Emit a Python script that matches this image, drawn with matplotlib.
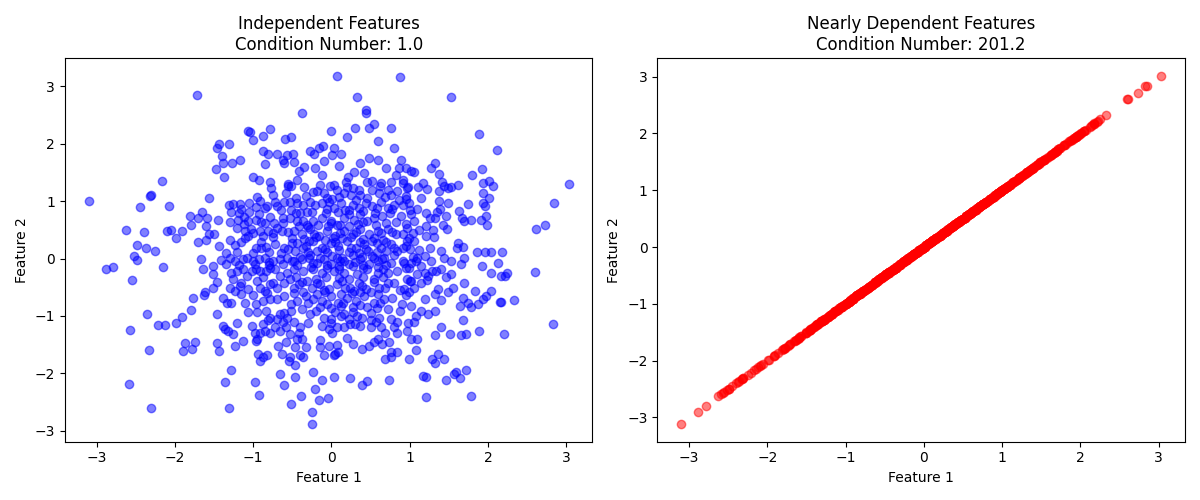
import matplotlib
matplotlib.use("Agg")
import matplotlib.pyplot as plt

# Feature 1 values (both panels share this column)
feature_1 = [
    -1.72, -0.38, -3.10, -2.17, -2.32, -2.31, -2.45, -2.08, -2.63, -2.40, -2.10, -2.05, -1.99, -2.49, -2.37, -2.25,
    0.07, 0.88, 0.33, 1.53, 0.44, 0.44, 3.03, 2.85, 2.73, 2.61,
    -2.88, -2.79, -2.52, -2.49, -2.55, -2.15, -2.36, -2.57, -2.21, -2.12, -2.33, -2.59, -2.31, -1.98, -1.91, -1.80, -1.77, -1.46,
    -1.87, -1.90, -1.78, -1.74, -1.46, -1.44, -1.36, -1.28, -1.31, -1.23, -1.13, -0.96, -0.94, -0.91, -0.87, -0.82, -0.98, -0.92,
    -0.68, -0.63, -0.58, -0.54, -0.66, -0.60, -0.51, -0.39, -0.25, -0.25, -0.21, -0.16, -0.04,
    -1.07, -1.04, -1.00, -0.87, -0.79, -1.43, -1.31, -1.46, -1.40, -1.39, -1.27, -1.17, -1.47, -1.37,
    -0.87, -0.81, -0.70, -0.62, -0.60, -0.85, -1.00, -0.93, -0.79, -0.77, -0.59, -0.57, -0.56,
    -1.57, -1.31, -1.26, -1.17, -1.05, -0.91, -0.82, -0.72, -0.69, -0.61, -0.58, -0.55,
    -1.28, -1.18, -1.05, -0.96, -0.93, -1.81, -1.65, -1.71, -1.59, -1.45,
    -1.79, -1.91, -1.60, -1.57, -1.50, -1.19, -1.06, -0.96, -0.85, -0.73,
    -1.21, -1.10, -1.03, -0.91, -0.81, -0.70, -0.63,
    -1.71, -1.60, -1.44, -1.30, -1.23, -1.11, -1.06, -0.96, -0.83, -0.72, -0.61,
    -0.51, -0.01, 0.20, 0.30, 0.48, 0.54, 0.60, 0.76,
    -0.49, -0.48, -0.41, -0.44, -0.51, -0.27, -0.22, -0.16, -0.11, -0.10, -0.21, 0.03, 0.12, 0.01,
    -0.12, -0.14, -0.23, -0.18, -0.10, -0.06, 0.01,
    0.21, 0.29, 0.37, 0.48, 0.60, 0.42, 0.46, 0.52, 0.63, 0.76, 0.82, 0.87, 0.80,
    0.03, 0.07, 0.16, 0.19, 0.27, 0.35, 0.37, 0.32, 0.52, 0.61, 0.72, 0.76, 0.84,
    -0.53, -0.44, -0.36, -0.27, -0.51, -0.40, -0.31, -0.21,
    -0.12, -0.03, 0.03, 0.12, 0.18, 0.27, 0.35, 0.44, 0.52, 0.63, 0.72, 0.80, 0.87,
    0.65, 0.54, 0.46, 0.37, 0.29, 0.16, 0.07, -0.01, -0.12, -0.23, -0.31, -0.44, -0.53,
    -0.48, -0.38, -0.27, -0.16, -0.06, 0.05, 0.16, 0.27, 0.37, 0.48, 0.59, 0.72, 0.82,
    -0.44, -0.33, -0.23, -0.12, -0.01, 0.09, 0.20, 0.31, 0.42, 0.52, 0.63, 0.76, 0.84,
    -0.40, -0.27, -0.14, 0.01, 0.14, 0.27, 0.39, 0.52, 0.67, 0.80,
    -0.47, -0.30, -0.19, -0.05, 0.10, 0.22, 0.35, 0.47, 0.58, 0.70,
    -0.50, -0.35, -0.20, -0.08, 0.02, 0.14, 0.25, 0.40, 0.55, 0.66,
    -0.42, -0.30, -0.17, -0.04, 0.11, 0.22, 0.34, 0.57, 0.70,
    -0.45, -0.25, -0.07, 0.08, 0.23, 0.41, 0.56, 0.75,
    1.88, 2.12, 0.89, 0.95, 1.02, 1.06, 0.92, 1.27, 1.32, 1.38, 1.41, 1.44, 1.38, 1.49, 1.53, 1.62,
    1.11, 1.17, 1.22, 1.80, 1.92, 1.94, 2.01, 2.07, 1.94, 2.01, 1.94, 1.96, 1.97, 1.99, 1.91, 1.79,
    1.74, 1.63, 1.67, 1.69, 1.37, 1.49, 1.39, 1.35, 1.47, 1.48, 1.42,
    1.21, 1.26, 1.33, 1.21, 1.30, 1.21, 1.31, 1.26, 1.62, 1.68, 1.61, 1.86, 1.96, 2.04, 2.18,
    0.91, 0.97, 0.95, 0.99, 0.91, 0.89, 1.02, 1.06, 0.97, 1.04, 0.99, 1.06, 0.95, 0.91, 1.10, 1.04, 1.19,
    1.12, 1.12, 1.40,
    -1.66, -1.64, -1.51, -1.41, -1.30, -1.23, -1.13, -1.08, -0.93, -0.85, -0.74, -0.66, -0.57,
    -1.51, -1.46, -1.61, -1.51, -1.63, -1.28, -1.26, -1.21, -1.13, -1.08, -1.02, -0.91, -0.87, -0.83, -0.72, -0.66, -0.57,
    -1.30, -1.23, -1.17, -1.06, -0.91, -0.85, -0.78, -0.70, -0.61,
    -1.38, -1.34, -1.28, -0.96, -0.87, -0.78, -0.70, -0.61,
    -1.06, -0.83, -0.78, -0.70, -0.81, -0.66, -0.57,
    -1.38, -1.32, -1.26, -1.36, -1.02, -0.98, -0.91, -0.85, -0.78, -0.72, -0.66, -0.58,
    -1.35, -1.20, -1.00, -0.80, -0.65, -1.35, -1.18, -0.98, -0.80, -0.62, -1.15, -1.00, -0.82, -0.88, -0.75, -1.12, -0.78, -0.62,
    -0.48, -0.38, -0.29, -0.18, -0.10, -0.01, 0.07, 0.16, 0.27, 0.37, 0.48, 0.54, 0.65, 0.76, 0.84,
    -0.36, -0.23, -0.12, 0.03, 0.16, 0.33, 0.46, 0.59, 0.72,
    -0.53, -0.42, -0.31, -0.25, -0.14, -0.03, 0.07, 0.18, 0.29, 0.39, 0.50, 0.61, 0.72,
    0.78, 0.67, 0.54, 0.42, 0.31, 0.20, 0.09, -0.01, -0.12, -0.23, -0.33, -0.44,
    -0.51, -0.38, -0.27, -0.48, -0.40, -0.53, -0.42,
    -0.10, -0.01, 0.12, 0.16, 0.22, 0.33, 0.39, 0.50, 0.61, 0.72, 0.76, 0.84,
    -0.12, -0.03, 0.01, 0.07, 0.16, 0.24, 0.37, 0.50, 0.63, 0.69, 0.80, 0.84,
    -0.14, -0.03, 0.07, 0.03, 0.05, -0.10, 0.09, 0.27, 0.39, 0.48, 0.54, 0.65, 0.74, 0.76, 0.69, 0.76, 0.84,
    -0.38, -0.33, -0.44, -0.46, -0.40, -0.53, -0.36, -0.46,
    -0.46, -0.23, -0.12, 0.03, 0.24, 0.39, 0.45, 0.74,
    -0.44, -0.26, -0.06, 0.10, 0.22, 0.41, 0.60, 0.70, -0.45, -0.20, -0.07, 0.10, 0.23, 0.40, 0.55, 0.66,
    -0.48, -0.36, -0.19, -0.08, 0.12, 0.26, 0.36, 0.60, -0.15, 0.00, 0.12, 0.28, 0.45, 0.58,
    0.93, 0.99, 1.08, 1.14, 1.10, 1.19, 0.97, 0.93, 0.99, 0.95, 1.06, 1.14, 1.23, 1.29, 1.27, 1.34, 1.40, 1.46, 1.44, 1.53, 1.66, 1.70,
    1.92, 2.13, 2.04, 2.17, 2.25, 1.53, 1.55, 1.49, 1.36, 1.32, 1.70, 1.68, 1.64, 1.74, 1.79, 1.87, 1.94, 1.98, 2.04, 2.15, 1.83,
    1.02, 1.08, 1.14, 1.23, 1.32, 0.97, 1.06, 1.02, 1.40, 1.51, 1.66, 1.72, 1.89, 2.21, 1.68, 1.32,
    1.08, 0.99, 1.36, 1.32, 1.29, 1.44, 1.17, 1.21, 1.59, 1.57, 1.72, 1.46, 1.64, 1.79, 1.21,
    2.60, 2.33, 2.83, 2.17, 2.22,
    1.02, 1.22, 1.20, 1.40,
]

# Feature 2 of the independent case (left panel)
feature_2 = [
    2.85, 2.54, 1.01, 1.36, 1.09, 1.10, 0.89, 0.91, 0.49, 0.47, 0.48, 0.49, 0.35, 0.23, 0.18, 0.14,
    3.19, 3.16, 2.81, 2.81, 2.59, 2.53, 1.30, 0.97, 0.58, 0.52,
    -0.19, -0.14, 0.04, -0.03, -0.38, -0.14, -0.97, -1.24, -1.16, -1.16, -1.59, -2.18, -2.61, -1.12, -1.02, -0.90, -0.69, -0.97,
    -1.47, -1.61, -1.57, -1.46, -1.47, -1.62, -2.16, -1.95, -2.61, -1.52, -1.44, -1.43, -1.66, -1.78, -1.72, -1.69, -2.15, -2.38,
    -1.52, -1.66, -1.46, -1.79, -2.01, -2.21, -2.53, -2.40, -2.67, -2.89, -2.28, -2.47, -2.44,
    2.23, 2.21, 2.07, 2.13, 2.26, 1.99, 1.99, 1.92, 1.79, 1.67, 1.67, 1.71, 1.56, 1.43,
    1.87, 1.82, 1.82, 1.71, 1.67, 1.64, 1.43, 1.37, 1.33, 1.23, 2.08, 1.80, 1.30,
    1.06, 0.93, 0.95, 0.95, 0.97, 1.01, 0.91, 0.99, 0.92, 0.99, 1.14, 1.26,
    0.82, 0.79, 0.81, 0.89, 0.78, 0.75, 0.81, 0.71, 0.71, 0.67,
    0.59, 0.48, 0.56, 0.42, 0.42, 0.67, 0.65, 0.68, 0.62, 0.62,
    0.54, 0.48, 0.52, 0.48, 0.48, 0.53, 0.48,
    0.29, 0.33, 0.22, 0.32, 0.23, 0.36, 0.39, 0.19, 0.20, 0.25, 0.19,
    2.12, 2.22, 2.12, 2.27, 2.27, 2.35, 2.05, 2.27,
    1.83, 1.69, 1.53, 1.37, 1.26, 1.87, 1.83, 1.93, 1.96, 1.70, 1.57, 1.92, 1.83, 1.80,
    1.46, 1.29, 1.16, 1.17, 1.14, 1.05, 1.03,
    1.43, 1.50, 1.66, 1.76, 1.72, 1.49, 1.34, 1.35, 1.31, 1.34, 1.46, 1.57, 1.92,
    1.29, 1.20, 1.14, 1.34, 1.23, 1.20, 1.11, 1.02, 1.20, 1.14, 1.20, 1.11, 1.17,
    0.99, 0.97, 0.94, 0.99, 0.85, 0.79, 0.82, 0.94,
    0.97, 0.99, 0.88, 0.97, 0.85, 0.94, 0.88, 0.97, 0.91, 0.99, 0.88, 0.94, 1.02,
    0.74, 0.71, 0.65, 0.77, 0.68, 0.71, 0.59, 0.65, 0.71, 0.65, 0.59, 0.65, 0.71,
    0.48, 0.42, 0.51, 0.39, 0.48, 0.39, 0.48, 0.42, 0.51, 0.42, 0.48, 0.51, 0.42,
    0.27, 0.22, 0.30, 0.19, 0.27, 0.22, 0.30, 0.19, 0.25, 0.30, 0.19, 0.25, 0.13,
    0.03, 0.07, 0.01, 0.04, 0.01, 0.07, 0.02, 0.04, 0.01, 0.07,
    0.13, 0.11, 0.14, 0.12, 0.15, 0.12, 0.10, 0.14, 0.11, 0.13,
    0.36, 0.34, 0.38, 0.33, 0.36, 0.35, 0.37, 0.34, 0.36, 0.33,
    0.57, 0.55, 0.59, 0.56, 0.58, 0.56, 0.60, 0.58, 0.62,
    0.80, 0.82, 0.79, 0.81, 0.78, 0.83, 0.80, 0.79,
    2.17, 1.89, 1.72, 1.57, 1.53, 1.50, 1.37, 1.57, 1.66, 1.47, 1.33, 1.26, 1.17, 1.23, 1.24, 1.29,
    1.24, 1.31, 1.21, 1.46, 1.56, 1.31, 1.35, 1.26, 1.15, 1.05, 0.97, 0.91, 0.74, 0.58, 0.68, 0.68,
    0.95, 0.83, 0.71, 0.65, 1.01, 0.97, 0.87, 0.82, 0.74, 0.52, 0.59,
    0.79, 0.71, 0.70, 0.56, 0.50, 0.39, 0.37, 0.19, 0.27, 0.20, 0.19, 0.12, 0.12, 0.12, 0.12,
    1.31, 1.23, 1.04, 0.97, 0.94, 0.74, 0.77, 0.65, 0.53, 0.45, 0.36, 0.30, 0.22, 0.19, 0.01, 0.03, 0.04,
    0.50, 0.15, 0.14,
    0.00, -0.19, -0.13, -0.03, 0.01, -0.04, -0.01, 0.01, -0.01, 0.01, -0.04, -0.01, 0.01,
    -0.27, -0.41, -0.59, -0.51, -0.64, -0.25, -0.36, -0.22, -0.19, -0.30, -0.22, -0.22, -0.33, -0.22, -0.19, -0.30, -0.25,
    -0.51, -0.56, -0.48, -0.53, -0.51, -0.56, -0.45, -0.51, -0.42,
    -0.68, -0.77, -0.77, -0.79, -0.74, -0.71, -0.71, -0.65,
    -0.94, -0.91, -1.03, -1.05, -1.08, -0.97, -1.03,
    -1.17, -1.26, -1.31, -1.23, -1.17, -1.29, -1.29, -1.26, -1.29, -1.20, -1.26, -1.20,
    0.10, 0.12, 0.09, 0.11, 0.10, -0.10, -0.11, -0.09, -0.12, -0.10, -0.62, -0.64, -0.60, 0.40, 0.38, 0.72, 0.73, 0.71,
    -0.04, -0.01, 0.01, -0.07, -0.01, -0.10, 0.01, -0.04, -0.13, -0.01, -0.10, 0.01, -0.01, -0.07, -0.22,
    -0.22, -0.19, -0.25, -0.22, -0.25, -0.27, -0.19, -0.25, -0.25,
    -0.36, -0.45, -0.39, -0.51, -0.45, -0.53, -0.45, -0.51, -0.56, -0.48, -0.59, -0.51, -0.42,
    -0.68, -0.71, -0.77, -0.65, -0.74, -0.68, -0.77, -0.65, -0.74, -0.71, -0.65, -0.74,
    -0.91, -0.88, -0.97, -1.11, -1.20, -1.31, -1.29,
    -1.03, -1.05, -1.00, -0.97, -1.05, -1.00, -1.03, -1.08, -1.03, -0.88, -1.05, -1.11,
    -1.17, -1.23, -1.29, -1.20, -1.20, -1.14, -1.17, -1.20, -1.20, -1.29, -1.20, -1.29,
    -1.55, -1.52, -1.50, -1.69, -1.66, -1.69, -1.63, -1.49, -1.57, -1.52, -1.46, -1.49, -1.46, -1.63, -1.75, -1.72, -1.63,
    -1.40, -1.55, -1.40, -1.55, -1.69, -1.72, -1.72, -1.86,
    -2.07, -1.98, -2.12, -2.07, -2.09, -2.21, -2.14, -2.12,
    -0.12, -0.14, -0.11, -0.13, -0.10, -0.12, -0.14, -0.11, -0.33, -0.35, -0.32, -0.34, -0.36, -0.33, -0.35, -0.32,
    -0.60, -0.58, -0.61, -0.59, -0.62, -0.60, -0.58, -0.61, -0.84, -0.86, -0.83, -0.85, -0.84, -0.87,
    -0.07, -0.16, -0.04, -0.13, -0.27, -0.25, -0.36, -0.53, -0.59, -0.64, -0.51, -0.42, -0.30, -0.22, -0.04, -0.22, -0.19, -0.33, 0.01, -0.04, -0.10, 0.01,
    -0.13, -0.07, -0.25, -0.30, -0.25, -0.27, -0.51, -0.59, -0.53, -0.62, -0.42, -0.68, -0.82, -0.77, -0.85, -0.79, -0.71, -0.65, -0.56, -0.75, -0.56,
    -0.82, -1.00, -0.91, -0.97, -0.91, -1.26, -1.11, -1.40, -1.20, -1.31, -1.34, -1.31, -1.26, -1.31, -1.08, -1.34,
    -1.60, -1.75, -1.66, -1.83, -1.75, -1.75, -2.04, -2.07, -1.98, -2.01, -1.95, -2.12, -2.09, -2.40, -2.42,
    -0.24, -0.72, -1.15, -0.76, -0.31,
    -0.40, -0.38, -0.70, -0.72,
]

# Feature 2 of the nearly dependent case (right panel)
dep_feature_2 = [
    -1.72, -0.38, -3.12, -2.17, -2.32, -2.31, -2.45, -2.08, -2.63, -2.40, -2.10, -2.05, -1.99, -2.49, -2.37, -2.25,
    0.07, 0.88, 0.33, 1.53, 0.44, 0.44, 3.02, 2.84, 2.72, 2.61,
    -2.90, -2.79, -2.52, -2.49, -2.55, -2.15, -2.36, -2.57, -2.21, -2.12, -2.33, -2.59, -2.31, -1.98, -1.91, -1.80, -1.77, -1.46,
    -1.87, -1.90, -1.78, -1.74, -1.46, -1.44, -1.36, -1.28, -1.31, -1.23, -1.13, -0.96, -0.94, -0.91, -0.87, -0.82, -0.98, -0.92,
    -0.68, -0.63, -0.58, -0.54, -0.66, -0.60, -0.51, -0.39, -0.25, -0.25, -0.21, -0.16, -0.04,
    -1.07, -1.04, -1.00, -0.87, -0.79, -1.43, -1.31, -1.46, -1.40, -1.39, -1.27, -1.17, -1.47, -1.37,
    -0.87, -0.81, -0.70, -0.62, -0.60, -0.85, -1.00, -0.93, -0.79, -0.77, -0.59, -0.57, -0.56,
    -1.57, -1.31, -1.26, -1.17, -1.05, -0.91, -0.82, -0.72, -0.69, -0.61, -0.58, -0.55,
    -1.28, -1.18, -1.05, -0.96, -0.93, -1.81, -1.65, -1.71, -1.59, -1.45,
    -1.79, -1.91, -1.60, -1.57, -1.50, -1.19, -1.06, -0.96, -0.85, -0.73,
    -1.21, -1.10, -1.03, -0.91, -0.81, -0.70, -0.63,
    -1.71, -1.60, -1.44, -1.30, -1.23, -1.11, -1.06, -0.96, -0.83, -0.72, -0.61,
    -0.51, -0.01, 0.20, 0.30, 0.48, 0.54, 0.60, 0.76,
    -0.49, -0.48, -0.41, -0.44, -0.51, -0.27, -0.22, -0.16, -0.11, -0.10, -0.21, 0.03, 0.12, 0.01,
    -0.12, -0.14, -0.23, -0.18, -0.10, -0.06, 0.01,
    0.21, 0.29, 0.37, 0.48, 0.60, 0.42, 0.46, 0.52, 0.63, 0.76, 0.82, 0.87, 0.80,
    0.03, 0.07, 0.16, 0.19, 0.27, 0.35, 0.37, 0.32, 0.52, 0.61, 0.72, 0.76, 0.84,
    -0.53, -0.44, -0.36, -0.27, -0.51, -0.40, -0.31, -0.21,
    -0.12, -0.03, 0.03, 0.12, 0.18, 0.27, 0.35, 0.44, 0.52, 0.63, 0.72, 0.80, 0.87,
    0.65, 0.54, 0.46, 0.37, 0.29, 0.16, 0.07, -0.01, -0.12, -0.23, -0.31, -0.44, -0.53,
    -0.48, -0.38, -0.27, -0.16, -0.06, 0.05, 0.16, 0.27, 0.37, 0.48, 0.59, 0.72, 0.82,
    -0.44, -0.33, -0.23, -0.12, -0.01, 0.09, 0.20, 0.31, 0.42, 0.52, 0.63, 0.76, 0.84,
    -0.40, -0.27, -0.14, 0.01, 0.14, 0.27, 0.39, 0.52, 0.67, 0.80,
    -0.47, -0.30, -0.19, -0.05, 0.10, 0.22, 0.35, 0.47, 0.58, 0.70,
    -0.50, -0.35, -0.20, -0.08, 0.02, 0.14, 0.25, 0.40, 0.55, 0.66,
    -0.42, -0.30, -0.17, -0.04, 0.11, 0.22, 0.34, 0.57, 0.70,
    -0.45, -0.25, -0.07, 0.08, 0.23, 0.41, 0.56, 0.75,
    1.88, 2.12, 0.89, 0.95, 1.02, 1.06, 0.92, 1.27, 1.32, 1.38, 1.41, 1.44, 1.38, 1.49, 1.53, 1.62,
    1.11, 1.17, 1.22, 1.80, 1.92, 1.94, 2.01, 2.07, 1.94, 2.01, 1.94, 1.96, 1.97, 1.99, 1.91, 1.79,
    1.74, 1.63, 1.67, 1.69, 1.37, 1.49, 1.39, 1.35, 1.47, 1.48, 1.42,
    1.21, 1.26, 1.33, 1.21, 1.30, 1.21, 1.31, 1.26, 1.62, 1.68, 1.61, 1.86, 1.96, 2.04, 2.18,
    0.91, 0.97, 0.95, 0.99, 0.91, 0.89, 1.02, 1.06, 0.97, 1.04, 0.99, 1.06, 0.95, 0.91, 1.10, 1.04, 1.19,
    1.12, 1.12, 1.40,
    -1.66, -1.64, -1.51, -1.41, -1.30, -1.23, -1.13, -1.08, -0.93, -0.85, -0.74, -0.66, -0.57,
    -1.51, -1.46, -1.61, -1.51, -1.63, -1.28, -1.26, -1.21, -1.13, -1.08, -1.02, -0.91, -0.87, -0.83, -0.72, -0.66, -0.57,
    -1.30, -1.23, -1.17, -1.06, -0.91, -0.85, -0.78, -0.70, -0.61,
    -1.38, -1.34, -1.28, -0.96, -0.87, -0.78, -0.70, -0.61,
    -1.06, -0.83, -0.78, -0.70, -0.81, -0.66, -0.57,
    -1.38, -1.32, -1.26, -1.36, -1.02, -0.98, -0.91, -0.85, -0.78, -0.72, -0.66, -0.58,
    -1.35, -1.20, -1.00, -0.80, -0.65, -1.35, -1.18, -0.98, -0.80, -0.62, -1.15, -1.00, -0.82, -0.88, -0.75, -1.12, -0.78, -0.62,
    -0.48, -0.38, -0.29, -0.18, -0.10, -0.01, 0.07, 0.16, 0.27, 0.37, 0.48, 0.54, 0.65, 0.76, 0.84,
    -0.36, -0.23, -0.12, 0.03, 0.16, 0.33, 0.46, 0.59, 0.72,
    -0.53, -0.42, -0.31, -0.25, -0.14, -0.03, 0.07, 0.18, 0.29, 0.39, 0.50, 0.61, 0.72,
    0.78, 0.67, 0.54, 0.42, 0.31, 0.20, 0.09, -0.01, -0.12, -0.23, -0.33, -0.44,
    -0.51, -0.38, -0.27, -0.48, -0.40, -0.53, -0.42,
    -0.10, -0.01, 0.12, 0.16, 0.22, 0.33, 0.39, 0.50, 0.61, 0.72, 0.76, 0.84,
    -0.12, -0.03, 0.01, 0.07, 0.16, 0.24, 0.37, 0.50, 0.63, 0.69, 0.80, 0.84,
    -0.14, -0.03, 0.07, 0.03, 0.05, -0.10, 0.09, 0.27, 0.39, 0.48, 0.54, 0.65, 0.74, 0.76, 0.69, 0.76, 0.84,
    -0.38, -0.33, -0.44, -0.46, -0.40, -0.53, -0.36, -0.46,
    -0.46, -0.23, -0.12, 0.03, 0.24, 0.39, 0.45, 0.74,
    -0.44, -0.26, -0.06, 0.10, 0.22, 0.41, 0.60, 0.70, -0.45, -0.20, -0.07, 0.10, 0.23, 0.40, 0.55, 0.66,
    -0.48, -0.36, -0.19, -0.08, 0.12, 0.26, 0.36, 0.60, -0.15, 0.00, 0.12, 0.28, 0.45, 0.58,
    0.93, 0.99, 1.08, 1.14, 1.10, 1.19, 0.97, 0.93, 0.99, 0.95, 1.06, 1.14, 1.23, 1.29, 1.27, 1.34, 1.40, 1.46, 1.44, 1.53, 1.66, 1.70,
    1.92, 2.13, 2.04, 2.17, 2.25, 1.53, 1.55, 1.49, 1.36, 1.32, 1.70, 1.68, 1.64, 1.74, 1.79, 1.87, 1.94, 1.98, 2.04, 2.15, 1.83,
    1.02, 1.08, 1.14, 1.23, 1.32, 0.97, 1.06, 1.02, 1.40, 1.51, 1.66, 1.72, 1.89, 2.21, 1.68, 1.32,
    1.08, 0.99, 1.36, 1.32, 1.29, 1.44, 1.17, 1.21, 1.59, 1.57, 1.72, 1.46, 1.64, 1.79, 1.21,
    2.60, 2.32, 2.83, 2.17, 2.22,
    1.02, 1.22, 1.20, 1.40,
]

# Extra points in the crowded centre of the cloud (Feature 1 / Feature 2 / dependent Feature 2)
core_1 = [
    -0.95, -0.75, -0.45, -0.32, 0.10, 0.25, 0.45, 0.68, 0.95, 1.15,
    -1.15, -0.85, -0.65, -0.05, 0.22, 0.58, 0.78, 1.00, 1.10,
    -1.30, -1.12, -0.90, -0.62, -0.36, 0.00, 0.40, 0.83, 0.95,
    -1.00, -0.75, -0.55, -0.22, 0.11, 0.32, 0.64, 0.78, 0.92,
    -1.15, -0.90, -0.50, -0.28, 0.04, 0.36, 0.58, 0.70, 0.97,
    -0.90, -0.55, -0.36, -0.08, 0.25, 0.44, 0.80, 1.00,
    -1.00, -0.80, -0.50, -0.24, 0.11, 0.30, 0.59, 0.92, 1.02,
    -0.96, -0.78, -0.48, -0.05, 0.10, 0.40, 0.66, 0.95,
    -1.15, -0.95, -0.74, -0.38, -0.19, 0.13, 0.35, 0.55, 0.80, 1.00,
    -0.48, -0.09, 0.24, 0.44, 0.68, 0.88,
    -1.10, -0.52, -0.30, -0.06, 0.15, 0.37, 0.62, 0.90,
    -0.95, -0.60, -0.20, 0.05, 0.28, 0.50, 0.88,
    -1.20, -0.88, -0.62, -0.30, 0.00, 0.30, 0.57, 0.98,
    -0.35, -0.02, 0.20, 0.62, 0.98,
    -0.35, 0.10, 0.70,
    -0.95, -0.15, 0.20, 0.60, 1.10,
]
core_2 = [
    1.08, 1.10, 1.06, 1.09, 1.07, 1.10, 1.05, 1.08, 1.09, 1.06,
    0.86, 0.88, 0.85, 0.87, 0.84, 0.88, 0.86, 0.85, 0.87,
    0.63, 0.61, 0.64, 0.62, 0.65, 0.62, 0.63, 0.64, 0.61,
    0.45, 0.44, 0.46, 0.43, 0.45, 0.47, 0.44, 0.46, 0.43,
    0.28, 0.29, 0.27, 0.30, 0.28, 0.29, 0.27, 0.28, 0.30,
    0.18, 0.16, 0.19, 0.17, 0.18, 0.16, 0.19, 0.17,
    -0.05, -0.06, -0.04, -0.07, -0.05, -0.06, -0.04, -0.05, -0.07,
    -0.18, -0.16, -0.19, -0.17, -0.18, -0.16, -0.19, -0.17,
    -0.42, -0.40, -0.43, -0.41, -0.42, -0.40, -0.43, -0.41, -0.42, -0.40,
    -0.52, -0.54, -0.51, -0.53, -0.52, -0.54,
    -0.78, -0.80, -0.77, -0.79, -0.78, -0.81, -0.77, -0.80,
    -0.93, -0.95, -0.92, -0.94, -0.93, -0.95, -0.92,
    -1.12, -1.14, -1.11, -1.13, -1.12, -1.14, -1.11, -1.13,
    1.25, 1.27, 1.24, 1.26, 1.25,
    1.60, 1.62, 1.58,
    -1.40, -1.42, -1.39, -1.41, -1.40,
]
core_dep_2 = [
    -0.95, -0.75, -0.45, -0.32, 0.10, 0.25, 0.45, 0.68, 0.95, 1.15,
    -1.15, -0.85, -0.65, -0.05, 0.22, 0.58, 0.78, 1.00, 1.10,
    -1.30, -1.12, -0.90, -0.62, -0.36, 0.00, 0.40, 0.83, 0.95,
    -1.00, -0.75, -0.55, -0.22, 0.11, 0.32, 0.64, 0.78, 0.92,
    -1.15, -0.90, -0.50, -0.28, 0.04, 0.36, 0.58, 0.70, 0.97,
    -0.90, -0.55, -0.36, -0.08, 0.25, 0.44, 0.80, 1.00,
    -1.00, -0.80, -0.50, -0.24, 0.11, 0.30, 0.59, 0.92, 1.02,
    -0.96, -0.78, -0.48, -0.05, 0.10, 0.40, 0.66, 0.95,
    -1.15, -0.95, -0.74, -0.38, -0.19, 0.13, 0.35, 0.55, 0.80, 1.00,
    -0.48, -0.09, 0.24, 0.44, 0.68, 0.88,
    -1.10, -0.52, -0.30, -0.06, 0.15, 0.37, 0.62, 0.90,
    -0.95, -0.60, -0.20, 0.05, 0.28, 0.50, 0.88,
    -1.20, -0.88, -0.62, -0.30, 0.00, 0.30, 0.57, 0.98,
    -0.35, -0.02, 0.20, 0.62, 0.98,
    -0.35, 0.10, 0.70,
    -0.95, -0.15, 0.20, 0.60, 1.10,
]

titles = ["Independent Features\nCondition Number: 1.0",
          "Nearly Dependent Features\nCondition Number: 201.2"]

x_all = feature_1 + core_1
y_indep = feature_2 + core_2
y_dep = dep_feature_2 + core_dep_2

fig, (ax1, ax2) = plt.subplots(1, 2, figsize=(12, 5))

ax1.scatter(x_all, y_indep, alpha=0.5, color="blue")
ax1.set_title(titles[0])
ax1.set_xlabel("Feature 1")
ax1.set_ylabel("Feature 2")

ax2.scatter(x_all, y_dep, alpha=0.5, color="red")
ax2.set_title(titles[1])
ax2.set_xlabel("Feature 1")
ax2.set_ylabel("Feature 2")

plt.tight_layout()
plt.savefig("out.png", dpi=100)
